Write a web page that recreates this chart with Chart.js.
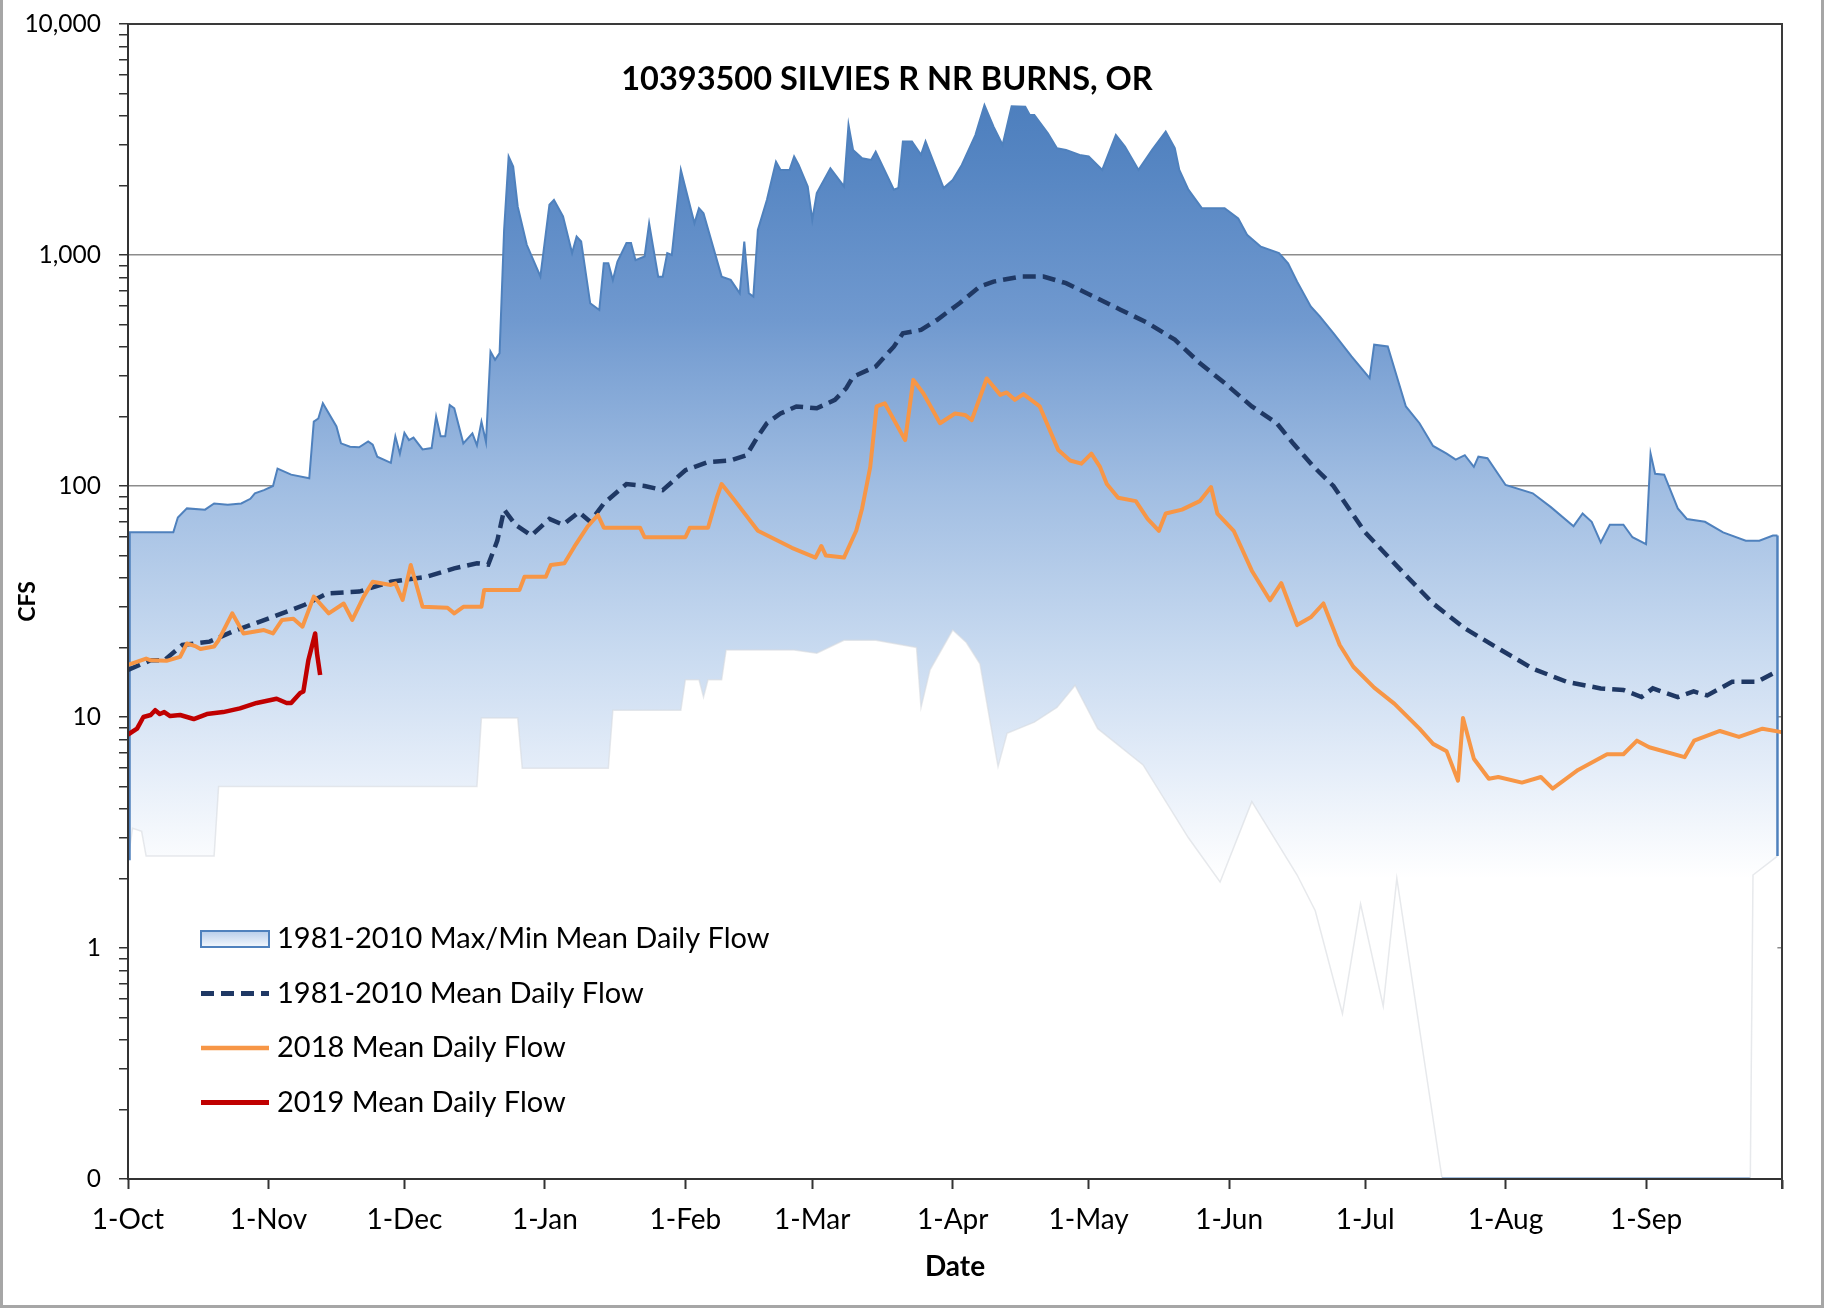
<!DOCTYPE html>
<html>
<head>
<meta charset="utf-8">
<script src="https://cdn.jsdelivr.net/npm/chart.js@4.4.1/dist/chart.umd.min.js"></script>
<style>
    html, body { margin: 0; padding: 0; background: #fff; }
    canvas { display: block; }
</style>
</head>
<body>
<canvas id="grafico" width="1825" height="1311"></canvas>
<script>
/* ▪▪▪ Dados — dias contados a partir de 1-Oct, vazão em CFS ▪▪▪ */
const chartTitle = "10393500 SILVIES R NR BURNS, OR";

const xTickDays = [0, 31, 61, 92, 123, 151, 182, 212, 243, 273, 304, 335, 365];
const xTickLabels = ["1-Oct", "1-Nov", "1-Dec", "1-Jan", "1-Feb", "1-Mar", "1-Apr", "1-May", "1-Jun", "1-Jul", "1-Aug", "1-Sep", ""];
const yMajorTicks = [0.1, 1, 10, 100, 1000, 10000];
const yTickLabels = ["0", "1", "10", "100", "1,000", "10,000"];

const maxDays = [
    0, 10, 11, 13, 17, 19, 22, 25, 27, 28, 30, 32, 33, 36, 40, 41, 42, 43, 46, 47,
    49, 51, 53, 54, 55, 58, 59, 60, 61, 62, 63, 65, 67, 68, 69, 70, 71, 72, 74, 76,
    77, 78, 79, 80, 81, 82, 83, 84, 85, 86, 88, 91, 93, 94, 96, 98, 99, 100, 102, 104,
    105, 106, 107, 108, 110, 111, 112, 114, 115, 117, 118, 119, 120, 122, 125, 126, 127, 131, 133, 135,
    136, 137, 138, 139, 141, 143, 144, 146, 147, 148, 150, 151, 152, 155, 158, 159, 160, 162, 164, 165,
    169, 170, 171, 173, 175, 176, 180, 182, 184, 187, 189, 191, 193, 195, 198, 199, 200, 203, 205, 207,
    210, 212, 215, 218, 220, 223, 226, 229, 231, 232, 234, 237, 239, 242, 245, 247, 250, 254, 256, 258,
    261, 263, 266, 270, 274, 275, 278, 280, 282, 285, 288, 291, 293, 295, 297, 298, 300, 304, 310, 314,
    319, 321, 323, 325, 327, 330, 332, 335, 336, 337, 339, 342, 344, 348, 352, 357, 360, 363, 364
];
const maxFlow = [
    63, 63, 73, 80, 79, 84, 83, 84, 88, 93, 96, 100, 119, 112, 108, 190, 196, 228, 181, 153,
    148, 147, 156, 151, 134, 126, 164, 138, 170, 158, 162, 144, 146, 200, 164, 164, 224, 217, 153, 169,
    150, 190, 155, 382, 352, 376, 1285, 2670, 2415, 1622, 1107, 807, 1650, 1733, 1468, 1019, 1203, 1144, 618, 578,
    921, 921, 780, 935, 1127, 1127, 950, 985, 1372, 806, 806, 1019, 1000, 2335, 1372, 1593, 1517, 806, 780, 683,
    1144, 683, 661, 1285, 1733, 2535, 2335, 2335, 2670, 2455, 1981, 1419, 1853, 2374, 1981, 3656, 2851, 2623, 2580, 2803,
    1917, 1950, 3099, 3099, 2713, 3099, 1950, 2112, 2455, 3306, 4456, 3597, 2994, 4400, 4385, 4036, 4036, 3363, 2900, 2851,
    2713, 2670, 2335, 3306, 2946, 2335, 2851, 3420, 2900, 2335, 1917, 1593, 1593, 1593, 1439, 1219, 1086, 1019, 921, 767,
    599, 542, 459, 364, 293, 409, 402, 298, 221, 187, 149, 138, 130, 136, 121, 134, 132, 101, 93, 81,
    67, 76, 70, 57, 68, 68, 60, 56, 138, 113, 112, 80, 72, 70, 63, 58, 58, 61, 61
];

const minDays = [
    0, 1, 3, 4, 19, 20, 77, 78, 86, 87, 106, 107, 122, 123, 126, 127, 128, 131, 132, 147,
    152, 158, 165, 174, 175, 177, 182, 185, 188, 192, 194, 200, 205, 209, 214, 224, 234, 241, 248, 258,
    262, 268, 272, 277, 280, 290, 358, 358.6, 364
];
const minFlow = [
    2.4, 3.3, 3.2, 2.5, 2.5, 5, 5, 9.9, 9.9, 6, 6, 10.7, 10.7, 14.5, 14.5, 12.2, 14.5, 14.5, 19.5, 19.5,
    18.9, 21.5, 21.5, 20, 11, 16, 23.8, 21, 17, 6.1, 8.5, 9.5, 11, 13.7, 8.9, 6.2, 3, 1.93, 4.3, 2.07,
    1.45, 0.52, 1.55, 0.56, 2.0, 0, 0, 2.07, 2.5
];

const meanDays = [
    0, 5, 8, 12, 18, 23, 28, 34, 39, 44, 51, 58, 66, 72, 77, 79.5, 81.5, 83, 85.5, 89,
    93, 96, 99.5, 102, 105, 110, 114, 118, 123, 128, 133, 136.5, 139, 141, 144, 147.5, 152, 156, 158.5, 160,
    165, 169, 171, 175, 178.5, 183.5, 188, 191, 197, 202, 207, 213, 219, 225, 231, 236.5, 242, 248, 253.5, 257,
    261.5, 266, 273, 281, 288, 295, 303, 310, 317.5, 325, 330, 334, 336.5, 342, 345.5, 348.5, 354, 359.5, 364
];
const meanFlow = [
    16, 17.6, 17.6, 20.5, 21.2, 23.4, 25.4, 28.1, 30.6, 34.3, 34.9, 38.5, 40.5, 44, 46.3, 45.7, 58, 79, 68, 61,
    72, 68, 77, 70, 84, 102, 100, 96, 117, 127, 129, 136, 164, 187, 206, 221, 217, 236, 265, 297,
    329, 401, 458, 474, 523, 618, 730, 767, 807, 807, 755, 662, 580, 508, 430, 341, 279, 221, 187, 154,
    122, 100, 63, 43, 31, 24.2, 19.5, 16.2, 14.2, 13.3, 13.1, 12.2, 13.3, 12.2, 12.9, 12.4, 14.2, 14.2, 15.8
];

const days2018 = [
    0, 4, 5, 8.5, 11.5, 13, 15, 16, 19, 20, 23, 25.5, 30, 32, 34, 36.5, 38.5, 41, 44.3, 47.6,
    49.5, 52, 54, 58, 59, 60.6, 62.4, 65, 70.5, 72, 74, 78, 78.6, 86.4, 87.5, 92.2, 93.3, 96.3, 98.5, 101.4,
    103.7, 105, 113, 114, 123, 124, 128, 130, 131, 134, 139, 146.5, 151.7, 153, 154, 158, 160.7, 162, 163.8, 165.2,
    167, 171.5, 173.3, 175.5, 179.2, 182.5, 184.7, 186.2, 189.5, 192.5, 193.9, 195.7, 197.6, 201.2, 205.3, 207.9, 210.4, 212.6, 214.5, 216,
    218.5, 222.4, 225, 227.5, 229, 232.6, 236.5, 239, 240.4, 244, 248, 252, 254.5, 258, 261, 263.8, 267.4, 270.4, 275, 279.5,
    285, 288, 291, 293.5, 294.6, 297, 300.3, 302.4, 307.6, 311.8, 314.4, 320, 326.4, 330, 333, 335.7, 343.5, 345.6, 351.3, 355.5,
    360.7, 364.9
];
const flow2018 = [
    16.8, 17.9, 17.6, 17.5, 18.2, 20.8, 20.2, 19.7, 20.2, 21.5, 28.1, 23, 23.8, 23, 26.3, 26.6, 24.6, 33.2, 28.1, 31,
    26.3, 33.2, 38.5, 37.3, 37.9, 32.1, 45.5, 30, 29.7, 28.1, 30, 30, 35.5, 35.5, 40.5, 40.5, 45.5, 46.3, 54.6, 66.7,
    74.9, 66, 66, 60, 60, 66, 66, 90, 102, 86, 64, 54, 49, 55, 50, 49, 64, 80, 121, 221,
    228, 158, 288, 252, 187, 206, 203, 193, 292, 248, 254, 236, 250, 221, 143, 129, 125, 138, 121, 102,
    89, 86, 72, 64, 76, 79, 86, 99, 76, 64, 43, 32, 38, 25, 27, 31, 20.5, 16.5, 13.4, 11.4,
    8.9, 7.65, 7.1, 5.3, 9.9, 6.6, 5.4, 5.5, 5.2, 5.5, 4.9, 5.9, 6.9, 6.9, 7.9, 7.4, 6.7, 7.9, 8.7, 8.2,
    8.9, 8.6
];

const days2019 = [0, 2, 3.4, 5, 6, 7, 8, 9.3, 11.5, 14.5, 17.4, 21, 24.7, 28.4, 32.8, 35, 36, 38, 38.7, 39.8, 41.3, 41.7, 42.4];
const flow2019 = [8.4, 8.9, 10, 10.2, 10.7, 10.3, 10.5, 10.1, 10.2, 9.8, 10.3, 10.5, 10.9, 11.5, 12, 11.5, 11.5, 12.7, 12.9, 17.6, 23, 18.9, 15.2];

/* ▪▪▪ Estilo ▪▪▪ */
const FONT = "Lato, 'Open Sans', sans-serif";
const Y_MIN = 0.1, Y_MAX = 10000, X_MAX = 365;
const BAND_LINE = "#4f81bd";
const MIN_EDGE = "rgba(215,218,224,0.6)";
const BAND_STOPS = [
    [0.00, "#4377b8"],
    [0.12, "#5585c2"],
    [0.256, "#7099cf"],
    [0.40, "#a0bde2"],
    [0.542, "#c8daf0"],
    [0.65, "#e6eef9"],
    [0.74, "#ffffff"],
    [1.00, "#ffffff"]
];

document.addEventListener("DOMContentLoaded", () => {
    desenharGrafico();
});

function pontos(days, flows) {
    // log scale cannot place 0, so zero flow sits on the axis floor
    return days.map((d, i) => ({ x: d, y: Math.max(flows[i], Y_MIN) }));
}

function bandFill(ctx) {
    const area = ctx.chart.chartArea;
    if (!area) return BAND_STOPS[2][1];
    const g = ctx.chart.ctx.createLinearGradient(0, area.top, 0, area.bottom);
    BAND_STOPS.forEach(([t, c]) => g.addColorStop(t, c));
    return g;
}

/* ▪▪▪ Título, legenda e molduras ▪▪▪ */
const decor = {
    id: "decor",
    afterDatasetDraw(chart, args) {
        if (args.index !== 1) return;
        // vertical ends of the max/min band
        const { ctx, scales: { x, y } } = chart;
        const ends = [
            [maxDays[0], maxFlow[0], minFlow[0]],
            [maxDays[maxDays.length - 1], maxFlow[maxFlow.length - 1], minFlow[minFlow.length - 1]]
        ];
        ctx.save();
        ctx.strokeStyle = BAND_LINE;
        ctx.lineWidth = 2.5;
        ends.forEach(([d, hi, lo]) => {
            const px = x.getPixelForValue(d) + (d === 0 ? 1.5 : 0);
            ctx.beginPath();
            ctx.moveTo(px, y.getPixelForValue(hi));
            ctx.lineTo(px, y.getPixelForValue(Math.max(lo, Y_MIN)));
            ctx.stroke();
        });
        ctx.restore();
    },
    afterDraw(chart) {
        const { ctx, chartArea: a } = chart;
        ctx.save();

        // plot box, top and right side
        ctx.strokeStyle = "#3a3a3a";
        ctx.lineWidth = 2;
        ctx.beginPath();
        ctx.moveTo(a.left, a.top);
        ctx.lineTo(a.right, a.top);
        ctx.lineTo(a.right, a.bottom + 10);
        ctx.stroke();

        // outer frame
        ctx.strokeStyle = "#a6a6a6";
        ctx.lineWidth = 3;
        ctx.beginPath();
        ctx.moveTo(1.5, 0);
        ctx.lineTo(1.5, 1306.5);
        ctx.lineTo(1822.5, 1306.5);
        ctx.lineTo(1822.5, 0);
        ctx.stroke();

        // title
        ctx.fillStyle = "#000";
        ctx.font = "bold 32.5px " + FONT;
        ctx.textAlign = "center";
        ctx.textBaseline = "middle";
        ctx.fillText(chartTitle, 887, 80);

        // legend
        const x0 = 201, w = 68, tx = 277, y0 = 939, step = 54.5;
        ctx.textAlign = "left";
        ctx.font = "29px " + FONT;
        chart.data.datasets.filter(ds => ds.legendRow !== undefined).forEach(ds => {
            const cy = y0 + ds.legendRow * step;
            if (ds.legendRow === 0) {
                const g = ctx.createLinearGradient(0, cy - 8, 0, cy + 8);
                g.addColorStop(0, "#b7cdea");
                g.addColorStop(1, "#f4f8fd");
                ctx.fillStyle = g;
                ctx.fillRect(x0, cy - 8, w, 16);
                ctx.strokeStyle = ds.borderColor;
                ctx.lineWidth = 2;
                ctx.setLineDash([]);
                ctx.strokeRect(x0, cy - 8, w, 16);
            } else {
                ctx.strokeStyle = ds.borderColor;
                ctx.lineWidth = ds.borderWidth + 0.5;
                ctx.setLineDash(ds.borderDash || []);
                ctx.beginPath();
                ctx.moveTo(x0, cy);
                ctx.lineTo(x0 + w, cy);
                ctx.stroke();
            }
            ctx.setLineDash([]);
            ctx.fillStyle = "#000";
            ctx.fillText(ds.label, tx, cy);
        });
        ctx.restore();
    }
};

/* ▪▪▪ GRÁFICO — vazão diária ▪▪▪ */
function desenharGrafico() {
    const ctx = document.getElementById("grafico");

    new Chart(ctx, {
        type: "line",
        data: {
            datasets: [
                {
                    label: "1981-2010 Max/Min Mean Daily Flow",
                    legendRow: 0,
                    data: pontos(maxDays, maxFlow),
                    borderColor: BAND_LINE,
                    borderWidth: 2,
                    backgroundColor: bandFill,
                    fill: "start",
                    order: 5
                },
                {
                    label: "",
                    data: pontos(minDays, minFlow),
                    borderColor: MIN_EDGE,
                    borderWidth: 1.5,
                    backgroundColor: "#ffffff",
                    fill: "start",
                    segment: {
                        borderColor: c => (c.p0.parsed.y <= Y_MIN && c.p1.parsed.y <= Y_MIN) ? BAND_LINE : MIN_EDGE,
                        borderWidth: c => (c.p0.parsed.y <= Y_MIN && c.p1.parsed.y <= Y_MIN) ? 3 : 1.5
                    },
                    order: 4
                },
                {
                    label: "1981-2010 Mean Daily Flow",
                    legendRow: 1,
                    data: pontos(meanDays, meanFlow),
                    borderColor: "#1f3864",
                    borderWidth: 4.5,
                    borderDash: [13, 7],
                    fill: false,
                    order: 3
                },
                {
                    label: "2018 Mean Daily Flow",
                    legendRow: 2,
                    data: pontos(days2018, flow2018),
                    borderColor: "#f79646",
                    borderWidth: 4,
                    borderJoinStyle: "round",
                    fill: false,
                    order: 2
                },
                {
                    label: "2019 Mean Daily Flow",
                    legendRow: 3,
                    data: pontos(days2019, flow2019),
                    borderColor: "#c00000",
                    borderWidth: 4.5,
                    borderJoinStyle: "round",
                    fill: false,
                    order: 1
                }
            ]
        },
        options: {
            responsive: false,
            animation: false,
            devicePixelRatio: 1,
            layout: { autoPadding: false, padding: { top: 24, right: 43, left: 0, bottom: 0 } },
            elements: { point: { radius: 0 }, line: { tension: 0 } },
            plugins: { legend: { display: false }, tooltip: { enabled: false } },
            scales: {
                x: {
                    type: "linear",
                    min: 0,
                    max: X_MAX,
                    afterFit: s => { s.height = 132; s.paddingLeft = 0; s.paddingRight = 0; },
                    afterBuildTicks: s => { s.ticks = xTickDays.map(v => ({ value: v })); },
                    grid: { drawOnChartArea: false, drawTicks: true, tickLength: 10, tickColor: "#333", tickWidth: 2 },
                    border: { display: true, color: "#333", width: 2, z: 1 },
                    ticks: {
                        autoSkip: false,
                        maxRotation: 0,
                        minRotation: 0,
                        padding: 14,
                        color: "#000",
                        font: { family: FONT, size: 28 },
                        callback: (v, i) => xTickLabels[i]
                    },
                    title: {
                        display: true,
                        text: "Date",
                        color: "#000",
                        font: { family: FONT, size: 28, weight: "bold" },
                        padding: { top: 0, bottom: 27 }
                    }
                },
                y: {
                    type: "logarithmic",
                    min: Y_MIN,
                    max: Y_MAX,
                    afterFit: s => { s.width = 128; s.paddingTop = 0; s.paddingBottom = 0; },
                    afterBuildTicks: s => {
                        const t = [];
                        yMajorTicks.forEach((m, k) => {
                            t.push({ value: m, major: true });
                            if (k < yMajorTicks.length - 1) {
                                for (let d = 2; d <= 9; d++) t.push({ value: +(m * d).toPrecision(3), major: false });
                            }
                        });
                        s.ticks = t;
                    },
                    grid: {
                        color: c => (c.tick && c.tick.major) ? "#8c8c8c" : "rgba(0,0,0,0)",
                        lineWidth: 1.5,
                        drawTicks: true,
                        tickLength: 9,
                        tickColor: "#333",
                        tickWidth: 1.5
                    },
                    border: { display: true, color: "#333", width: 2, z: 1 },
                    ticks: {
                        autoSkip: false,
                        padding: 18,
                        color: "#000",
                        font: { family: FONT, size: 24.5 },
                        callback: function (v, i, ticks) {
                            const k = yMajorTicks.indexOf(ticks[i].value);
                            return k >= 0 ? yTickLabels[k] : "";
                        }
                    },
                    title: {
                        display: true,
                        text: "CFS",
                        color: "#000",
                        font: { family: FONT, size: 23, weight: "bold" },
                        padding: { top: 14, bottom: 0 }
                    }
                }
            }
        },
        plugins: [decor]
    });
}
</script>
</body>
</html>
